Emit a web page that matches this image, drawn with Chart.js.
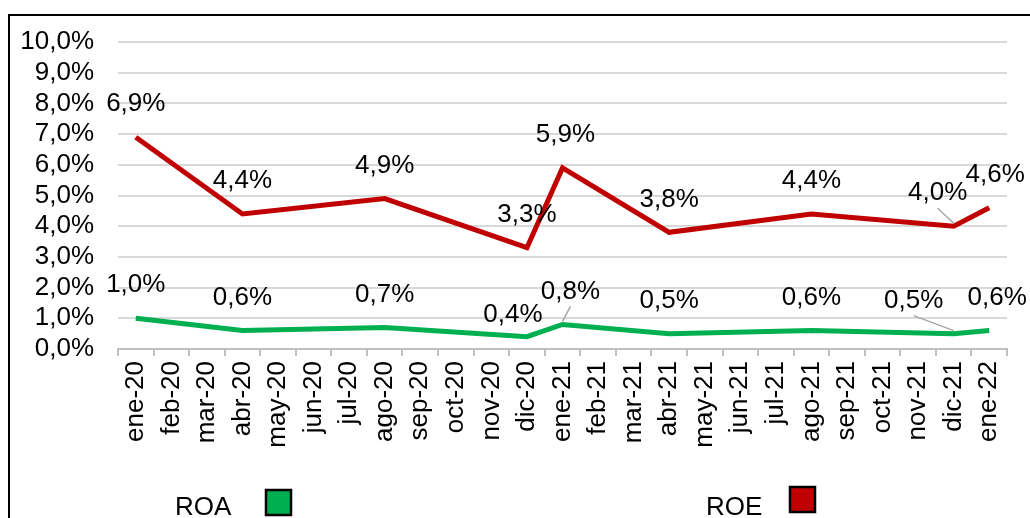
<!DOCTYPE html>
<html>
<head>
<meta charset="utf-8">
<script src="https://cdn.jsdelivr.net/npm/chart.js@4.4.1/dist/chart.umd.min.js"></script>
<style>
  html, body { margin: 0; padding: 0; background: #fff; overflow: hidden; }
  #wrap { position: relative; width: 1030px; height: 518px; }
</style>
</head>
<body>
<div id="wrap"><canvas id="lineChart" width="1030" height="518"></canvas></div>
<script>
// months on the x axis
var months = ["ene-20", "feb-20", "mar-20", "abr-20", "may-20", "jun-20", "jul-20", "ago-20",
  "sep-20", "oct-20", "nov-20", "dic-20", "ene-21", "feb-21", "mar-21", "abr-21", "may-21",
  "jun-21", "jul-21", "ago-21", "sep-21", "oct-21", "nov-21", "dic-21", "ene-22"];

// only the labelled months carry values, the line spans the gaps
var roa = [1.0, null, null, 0.6, null, null, null, 0.7, null, null, null, 0.4,
  0.8, null, null, 0.5, null, null, null, 0.6, null, null, null, 0.5, 0.6];
var roe = [6.9, null, null, 4.4, null, null, null, 4.9, null, null, null, 3.3,
  5.9, null, null, 3.8, null, null, null, 4.4, null, null, null, 4.0, 4.6];

var yTicks = [0, 1, 2, 3, 4, 5, 6, 7, 8, 9, 10];

function pct(v) {
  return v.toFixed(1).replace(".", ",") + "%";
}

// label nudges (dx, dy, leader line) for a few crowded points
var labelShift = {
  0: { 11: [-14, 11], 12: [8, 0, true], 23: [-40, 0, true], 24: [8, 0] },
  1: { 12: [3, 0], 23: [-16, 0, true], 24: [6, 0] }
};

var FONT = "Liberation Sans, Arial, sans-serif";

var decorPlugin = {
  id: "decor",
  afterDatasetsDraw: function (chart) {
    var ctx = chart.ctx;
    ctx.save();
    ctx.font = "26px " + FONT;
    ctx.fillStyle = "#000";
    ctx.textAlign = "center";
    ctx.textBaseline = "middle";
    chart.data.datasets.forEach(function (ds, di) {
      var meta = chart.getDatasetMeta(di);
      ds.data.forEach(function (v, i) {
        if (v === null) return;
        var pt = meta.data[i];
        var s = (labelShift[di] && labelShift[di][i]) || [0, 0];
        var lx = pt.x + s[0];
        var ly = pt.y - 33 + s[1];
        if (s[2]) {
          ctx.strokeStyle = "#a6a6a6";
          ctx.lineWidth = 1.5;
          ctx.beginPath();
          ctx.moveTo(lx, ly + 15);
          ctx.lineTo(pt.x, pt.y - 3);
          ctx.stroke();
        }
        ctx.fillText(pct(v), lx, ly);
      });
    });
    ctx.restore();
  },
  afterDraw: function (chart) {
    var ctx = chart.ctx;
    ctx.save();
    // outer frame
    ctx.strokeStyle = "#000";
    ctx.lineWidth = 2;
    ctx.beginPath();
    ctx.moveTo(9, 518);
    ctx.lineTo(9, 15);
    ctx.lineTo(1030, 15);
    ctx.stroke();
    // legend: text then a square
    var items = [
      { x: 175, bx: 266, by: 490 },
      { x: 706, bx: 790, by: 487 }
    ];
    ctx.font = "26px " + FONT;
    ctx.textAlign = "left";
    ctx.textBaseline = "alphabetic";
    chart.data.datasets.forEach(function (ds, di) {
      var it = items[di];
      ctx.fillStyle = "#000";
      ctx.fillText(ds.label, it.x, 515);
      ctx.fillStyle = ds.borderColor;
      ctx.fillRect(it.bx, it.by, 25, 25);
      ctx.lineWidth = 2.5;
      ctx.strokeStyle = "#000";
      ctx.strokeRect(it.bx, it.by, 25, 25);
    });
    ctx.restore();
  }
};

window.onload = function () {
  var ctxLine = document.getElementById("lineChart").getContext("2d");
  var lineChart = new Chart(ctxLine, {
    type: "line",
    data: {
      labels: months,
      datasets: [
        {
          label: "ROA",
          data: roa,
          borderColor: "#00B050",
          backgroundColor: "#00B050",
          borderWidth: 5,
          pointRadius: 0,
          spanGaps: true,
          tension: 0,
        },
        {
          label: "ROE",
          data: roe,
          borderColor: "#C00000",
          backgroundColor: "#C00000",
          borderWidth: 5,
          pointRadius: 0,
          spanGaps: true,
          tension: 0,
        },
      ],
    },
    options: {
      responsive: false,
      animation: false,
      layout: { padding: { left: 0, top: 42, right: 23, bottom: 0 } },
      plugins: {
        legend: { display: false },
        tooltip: { enabled: false },
      },
      scales: {
        x: {
          offset: true,
          grid: {
            offset: true,
            drawOnChartArea: false,
            drawTicks: true,
            tickLength: 7,
            color: "#bfbfbf",
            lineWidth: 2,
          },
          border: { color: "#bfbfbf", width: 2 },
          ticks: {
            autoSkip: false,
            maxRotation: 90,
            minRotation: 90,
            padding: 5,
            color: "#000",
            font: { family: FONT, size: 26 },
          },
          afterFit: function (scale) { scale.height = 169; },
        },
        y: {
          min: 0,
          max: 10,
          afterBuildTicks: function (scale) {
            scale.ticks = yTicks.map(function (v) { return { value: v }; });
          },
          grid: { color: "#d9d9d9", lineWidth: 2, drawTicks: false },
          border: { display: false },
          ticks: {
            autoSkip: false,
            padding: 24,
            color: "#000",
            font: { family: FONT, size: 26 },
            callback: function (v) { return pct(v); },
          },
          afterFit: function (scale) { scale.width = 118; },
        },
      },
    },
    plugins: [decorPlugin],
  });
};
</script>
</body>
</html>
